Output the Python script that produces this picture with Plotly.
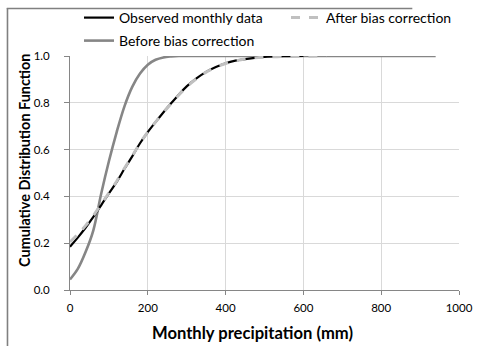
import plotly.graph_objects as go

# Observed monthly data
obs_x = [0, 20, 40, 60, 80, 100, 120, 140, 160, 180, 200, 225, 250, 275, 300,
         325, 350, 375, 400, 425, 450, 475, 500, 550, 600]
obs_y = [0.185, 0.224, 0.266, 0.312, 0.362, 0.413, 0.462, 0.518, 0.571, 0.627,
         0.675, 0.728, 0.779, 0.826, 0.870, 0.904, 0.932, 0.953, 0.969, 0.980,
         0.987, 0.992, 0.996, 0.999, 1.0]

# After bias correction
after_x = [0, 20, 40, 60, 80, 100, 120, 140, 160, 180, 200, 225, 250, 275, 300,
           325, 350, 375, 400, 425, 450, 475, 500, 550, 600, 660]
after_y = [0.205, 0.238, 0.275, 0.318, 0.366, 0.415, 0.465, 0.520, 0.573, 0.627,
           0.676, 0.728, 0.778, 0.825, 0.868, 0.903, 0.931, 0.952, 0.968, 0.979,
           0.987, 0.992, 0.995, 0.998, 0.999, 1.0]

# Before bias correction
before_x = [0, 20, 40, 60, 80, 100, 120, 140, 160, 180, 200, 220, 240, 260, 280,
            300, 400, 600, 800, 940]
before_y = [0.045, 0.09, 0.162, 0.255, 0.41, 0.55, 0.675, 0.785, 0.868, 0.925,
            0.963, 0.984, 0.994, 0.998, 1.0, 1.0, 1.0, 1.0, 1.0, 1.0]

x_ticks = [0, 200, 400, 600, 800, 1000]
y_ticks = [0.0, 0.2, 0.4, 0.6, 0.8, 1.0]

x_title = "Monthly precipitation (mm)"
y_title = "Cumulative Distribution Function"

FONT = "Lato"
LEG_FONT = dict(family=FONT, size=14, color="#000000")

fig = go.Figure()
fig.add_trace(go.Scatter(x=before_x, y=before_y, mode="lines", name="Before bias correction",
                         line=dict(color="#868686", width=2.6, shape="spline"),
                         legend="legend3"))
fig.add_trace(go.Scatter(x=obs_x, y=obs_y, mode="lines", name="Observed monthly data",
                         line=dict(color="#000000", width=2.2, shape="spline"),
                         legend="legend"))
fig.add_trace(go.Scatter(x=after_x, y=after_y, mode="lines", name="After bias correction",
                         line=dict(color="#c0c0c0", width=3, dash="dash", shape="spline"),
                         legend="legend2"))

leg_common = dict(orientation="h", xanchor="left", yanchor="top",
                  xref="container", yref="container",
                  font=LEG_FONT, bgcolor="rgba(0,0,0,0)", borderwidth=0)

fig.update_layout(
    width=477, height=346,
    margin=dict(l=70, r=18, t=56, b=56, autoexpand=False),
    paper_bgcolor="white", plot_bgcolor="white",
    font=dict(family=FONT, size=12, color="#000000"),
    showlegend=True,
    legend=dict(x=79 / 477, y=1 - 2 / 346, **leg_common),
    legend2=dict(x=286 / 477, y=1 - 2 / 346, **leg_common),
    legend3=dict(x=79 / 477, y=1 - 25 / 346, **leg_common),
    xaxis=dict(range=[0, 1000], tickvals=x_ticks, ticktext=[str(v) for v in x_ticks],
               showgrid=True, gridcolor="#d9d9d9", gridwidth=1,
               showline=True, linecolor="#868686", linewidth=1,
               ticks="outside", ticklen=4, tickcolor="#868686",
               ticklabelstandoff=3, automargin=False,
               tickfont=dict(family=FONT, size=11.5, color="#000000"),
               zeroline=False),
    yaxis=dict(range=[0, 1], tickvals=y_ticks, ticktext=[f"{v:.1f}" for v in y_ticks],
               showgrid=True, gridcolor="#d9d9d9", gridwidth=1,
               showline=True, linecolor="#868686", linewidth=1,
               ticks="outside", ticklen=5, tickcolor="#868686",
               ticklabelstandoff=12, automargin=False,
               tickfont=dict(family=FONT, size=11.5, color="#000000"),
               zeroline=False),
)

# axis titles
fig.add_annotation(text=f"<b>{x_title}</b>", xref="paper", yref="paper",
                   x=0.469, y=-0.1838, xanchor="center", yanchor="middle",
                   showarrow=False, font=dict(family=FONT, size=16.6, color="#000000"))
fig.add_annotation(text=f"<b>{y_title}</b>", xref="paper", yref="paper",
                   x=-0.1157, y=0.556, xanchor="center", yanchor="middle", textangle=-90,
                   showarrow=False, font=dict(family=FONT, size=14.4, color="#000000"))

# outer frame (left and top edges)
fig.add_shape(type="line", xref="paper", yref="paper",
              x0=-0.1607, x1=-0.1607, y0=1.205, y1=-0.25,
              line=dict(color="#808080", width=1.6))
fig.add_shape(type="line", xref="paper", yref="paper",
              x0=-0.1625, x1=0.88, y0=1.203, y1=1.203,
              line=dict(color="#808080", width=1.6))

fig.write_html("out.html", config={"displayModeBar": False},
               post_script="document.body.style.margin='0';document.body.style.padding='0';")
